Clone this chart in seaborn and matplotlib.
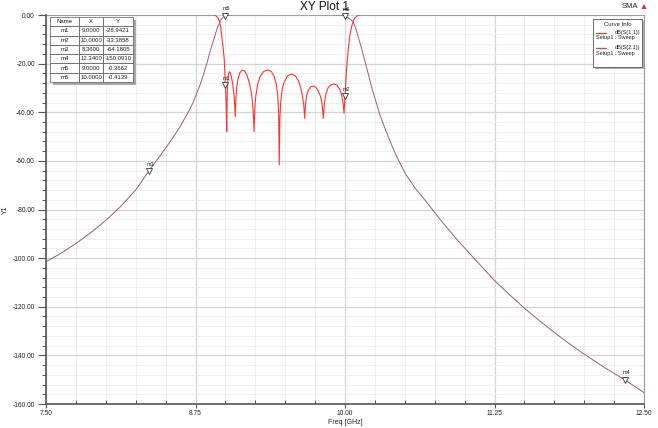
import numpy as np
import pandas as pd
import matplotlib
matplotlib.use("Agg")
import matplotlib.pyplot as plt
import seaborn as sns
from matplotlib.patches import Rectangle, Polygon
from matplotlib.lines import Line2D
from matplotlib.ticker import MultipleLocator, FixedLocator

# ---------------- data ----------------
s11_freq = [7.50, 8.90, 8.92, 8.935, 8.95, 8.96, 8.97, 8.98, 8.99, 9.000, 9.006, 9.011,
            9.015, 9.020, 9.026, 9.033, 9.042, 9.050, 9.060, 9.070, 9.077, 9.083,
            9.088, 9.095, 9.105, 9.120, 9.141, 9.160, 9.180, 9.200, 9.215, 9.225, 9.233, 9.240,
            9.246, 9.255, 9.270, 9.290, 9.320, 9.355, 9.385, 9.410, 9.425, 9.437, 9.445, 9.450,
            9.455, 9.462, 9.475, 9.490, 9.520, 9.554, 9.585, 9.610, 9.630, 9.645, 9.655, 9.663,
            9.670, 9.680, 9.695, 9.715, 9.735, 9.755, 9.775, 9.795, 9.808, 9.819,
            9.827, 9.840, 9.860, 9.885, 9.910, 9.935, 9.955, 9.970, 9.982, 9.992,
            10.000, 10.008, 10.015, 10.027, 10.040, 10.055, 10.070, 10.080, 10.100, 10.125, 12.50]
s11_db = [0.0, 0.0, -0.3, -1.0, -2.5, -4.8, -9.0, -13.0, -18.0, -28.94, -36.0, -48.0,
          -33.0, -27.5, -24.5, -23.3, -23.8, -25.5, -28.0, -32.0, -36.0, -41.8,
          -34.0, -29.5, -26.5, -23.8, -22.6, -23.0, -24.6, -28.0, -31.5, -35.5, -40.0, -48.0,
          -38.0, -33.0, -28.5, -25.3, -23.2, -22.6, -23.3, -25.5, -28.5, -33.0, -40.0, -61.7,
          -43.0, -36.0, -30.5, -27.8, -25.0, -24.3, -25.0, -27.0, -30.0, -33.5, -37.0, -42.5,
          -36.5, -33.0, -30.8, -29.5, -29.2, -29.7, -31.0, -33.5, -36.5, -42.5,
          -36.5, -32.5, -29.8, -28.6, -28.4, -29.0, -30.5, -32.5, -35.5, -40.4,
          -33.39, -26.5, -21.0, -14.4, -8.5, -4.8, -2.4, -1.4, -0.4, 0.0, 0.0]

s21_freq = [7.50, 7.625, 7.75, 7.875, 8.00, 8.125, 8.25, 8.36, 8.43, 8.50, 8.56, 8.62,
            8.68, 8.73, 8.79, 8.82, 8.85, 8.875, 8.90, 8.92, 8.93, 8.945, 8.955, 8.97,
            8.98, 9.00, 9.02, 9.05, 9.20, 9.50, 9.80, 9.95, 9.98, 10.00, 10.02, 10.04,
            10.07, 10.09, 10.11, 10.14, 10.18, 10.23, 10.29, 10.345, 10.40, 10.45, 10.51,
            10.59, 10.68, 10.79, 10.93, 11.07, 11.25, 11.375, 11.50, 11.625, 11.75,
            11.875, 12.00, 12.17, 12.34, 12.50]
s21_db = [-101.5, -98.0, -94.0, -89.5, -84.5, -78.7, -72.0, -64.18, -59.5, -54.8, -50.5, -46.0,
          -40.8, -36.0, -28.5, -24.0, -19.0, -14.5, -10.5, -7.3, -5.8, -3.8, -2.7, -1.5,
          -0.9, -0.37, -0.12, -0.03, -0.01, 0.0, -0.01, -0.05, -0.15, -0.41, -0.9, -1.6,
          -3.0, -5.5, -8.9, -14.0, -21.5, -31.0, -40.8, -48.0, -54.7, -60.0, -65.7,
          -71.5, -76.8, -83.8, -92.0, -99.6, -109.2, -115.0, -120.6, -125.7, -130.6,
          -135.2, -139.5, -145.0, -150.09, -155.3]

marker_names = ["m1", "m2", "m3", "m4", "m5", "m6"]
marker_x = [9.0, 10.0, 8.36, 12.34, 9.0, 10.0]
marker_y = [-28.9421, -33.3858, -64.1805, -150.0910, -0.3662, -0.4139]

x_ticks = [7.50, 8.75, 10.00, 11.25, 12.50]
y_ticks = [0, -20, -40, -60, -80, -100, -120, -140, -160]

curve_names = ["dB(S(1,1))", "dB(S(2,1))"]
curve_setup = ["Setup1 : Sweep", "Setup1 : Sweep"]

# ---------------- figure ----------------
W, H = 658, 428
sns.set_theme(style="white")
plt.rcParams["font.family"] = ["Arial", "Liberation Sans", "DejaVu Sans"]

fig = plt.figure(figsize=(W / 100, H / 100), dpi=100)
fig.patch.set_facecolor("white")
ax_l, ax_r, ax_t, ax_b = 46, 644, 15, 404
ax = fig.add_axes([ax_l / W, 1 - ax_b / H, (ax_r - ax_l) / W, (ax_b - ax_t) / H])
ax.set_facecolor("white")

RED = "#ff3333"
MAUVE = "#9a5c78"

df11 = pd.DataFrame({"f": s11_freq, "db": s11_db})
df21 = pd.DataFrame({"f": s21_freq, "db": s21_db})
sns.lineplot(data=df21, x="f", y="db", ax=ax, color=MAUVE, lw=0.7, sort=False,
             estimator=None, zorder=3)
sns.lineplot(data=df11, x="f", y="db", ax=ax, color=RED, lw=0.8, sort=False,
             estimator=None, zorder=4)

ax.set_xlim(7.5, 12.5)
ax.set_ylim(-160, 0)
ax.xaxis.set_major_locator(FixedLocator(x_ticks))
ax.xaxis.set_minor_locator(MultipleLocator(0.25))
ax.yaxis.set_major_locator(FixedLocator(y_ticks))
ax.yaxis.set_minor_locator(MultipleLocator(4))
ax.set_xticklabels([f"{v:.2f}" for v in x_ticks])
ax.set_yticklabels([f"{v:.2f}" for v in y_ticks])

ax.grid(which="major", color="#d4d4d4", lw=0.9, zorder=0)
ax.grid(which="minor", color="#ececec", lw=0.6, zorder=0)
ax.set_axisbelow(True)

ax.tick_params(axis="y", which="major", direction="out", length=6, width=0.8, color="#555555",
               labelsize=4.8, labelcolor="#222222", pad=2, left=True)
ax.tick_params(axis="y", which="minor", direction="out", length=3, width=0.7, color="#555555",
               left=True)
ax.tick_params(axis="x", which="major", direction="out", length=3, width=0.8, color="#555555",
               labelsize=4.8, labelcolor="#222222", pad=1.5, bottom=True)
ax.tick_params(axis="x", which="minor", direction="in", length=3, width=0.7, color="#555555",
               bottom=True)
for side in ["left", "bottom"]:
    ax.spines[side].set_color("#555555")
    ax.spines[side].set_linewidth(1.2)
ax.spines["right"].set_color("#9a9a9a")
ax.spines["right"].set_linewidth(0.8)
ax.spines["top"].set_visible(False)

ax.set_xlabel("Freq [GHz]", fontsize=5, labelpad=1, color="#222222")
ax.set_ylabel("Y1", fontsize=5, color="#222222")
ax.yaxis.set_label_coords(-37 / (ax_r - ax_l), 0.5)

# ---------------- markers ----------------
for name, mx, my in zip(marker_names, marker_x, marker_y):
    ax.plot([mx], [my], marker="v", ms=4, mfc="white", mec="#333333", mew=0.6,
            zorder=6, clip_on=False)
    ax.annotate(name, (mx, my), xytext=(1, 3.2), textcoords="offset points",
                fontsize=4, ha="center", va="bottom", color="#222222", zorder=7,
                annotation_clip=False)

# ---------------- marker table ----------------
def fx(px):
    return px / W

def fy(py):
    return 1 - py / H

t_l, t_r, t_t, t_b = 50, 133, 17, 82
fig.patches.append(Rectangle((fx(t_l + 3), fy(t_b + 3)), fx(t_r) - fx(t_l), fy(t_t) - fy(t_b),
                             transform=fig.transFigure, facecolor="#a8a8a8",
                             edgecolor="none", zorder=8))
rows = [[n, f"{x:.4f}", f"{y:.4f}"] for n, x, y in zip(marker_names, marker_x, marker_y)]
ax_tab = fig.add_axes([fx(t_l), fy(t_b), fx(t_r) - fx(t_l), fy(t_t) - fy(t_b)], zorder=9)
ax_tab.axis("off")
tbl = ax_tab.table(cellText=rows, colLabels=["Name", "X", "Y"], bbox=[0, 0, 1, 1],
                   cellLoc="center", colWidths=[0.35, 0.29, 0.36])
tbl.auto_set_font_size(False)
tbl.set_fontsize(4.3)
for (r, c), cell in tbl.get_celld().items():
    cell.set_edgecolor("#555555")
    cell.set_linewidth(0.5)
    cell.set_facecolor("white")
    cell.get_text().set_color("#222222")

# ---------------- curve info legend ----------------
l_l, l_r, l_t, l_b = 593, 642, 19, 67
fig.patches.append(Rectangle((fx(l_l + 2), fy(l_b + 2)), fx(l_r) - fx(l_l), fy(l_t) - fy(l_b),
                             transform=fig.transFigure, facecolor="#b0b0b0",
                             edgecolor="none", zorder=8))
fig.patches.append(Rectangle((fx(l_l), fy(l_b)), fx(l_r) - fx(l_l), fy(l_t) - fy(l_b),
                             transform=fig.transFigure, facecolor="white",
                             edgecolor="#555555", lw=0.6, zorder=9))
fig.text(fx((l_l + l_r) / 2), fy(24.5), "Curve Info", fontsize=4.3, ha="center",
         va="center", color="#222222", zorder=10)
for i, (nm, st, col) in enumerate(zip(curve_names, curve_setup, [RED, MAUVE])):
    yy = 32.5 + i * 15.5
    fig.lines.append(Line2D([fx(596), fx(606)], [fy(yy), fy(yy)], transform=fig.transFigure,
                            color=col, lw=1.0, zorder=10))
    fig.text(fx(640), fy(yy), nm, fontsize=4.0, ha="right", va="center",
             color="#222222", zorder=10)
    fig.text(fx(595.5), fy(yy + 5.2), st, fontsize=4.0, ha="left", va="center",
             color="#222222", zorder=10)

# ---------------- titles ----------------
fig.text(fx(324), fy(7), "XY Plot 1", fontsize=8.5, ha="center", va="center", color="#111111")
fig.text(fx(630), fy(7), "SMA", fontsize=5.5, ha="center", va="center", color="#222222")
fig.patches.append(Polygon([[fx(641.5), fy(9)], [fx(646.5), fy(9)], [fx(644), fy(4)]],
                           closed=True, transform=fig.transFigure, facecolor="#d03030",
                           edgecolor="none"))

fig.savefig("out.png", dpi=100, facecolor="white")
